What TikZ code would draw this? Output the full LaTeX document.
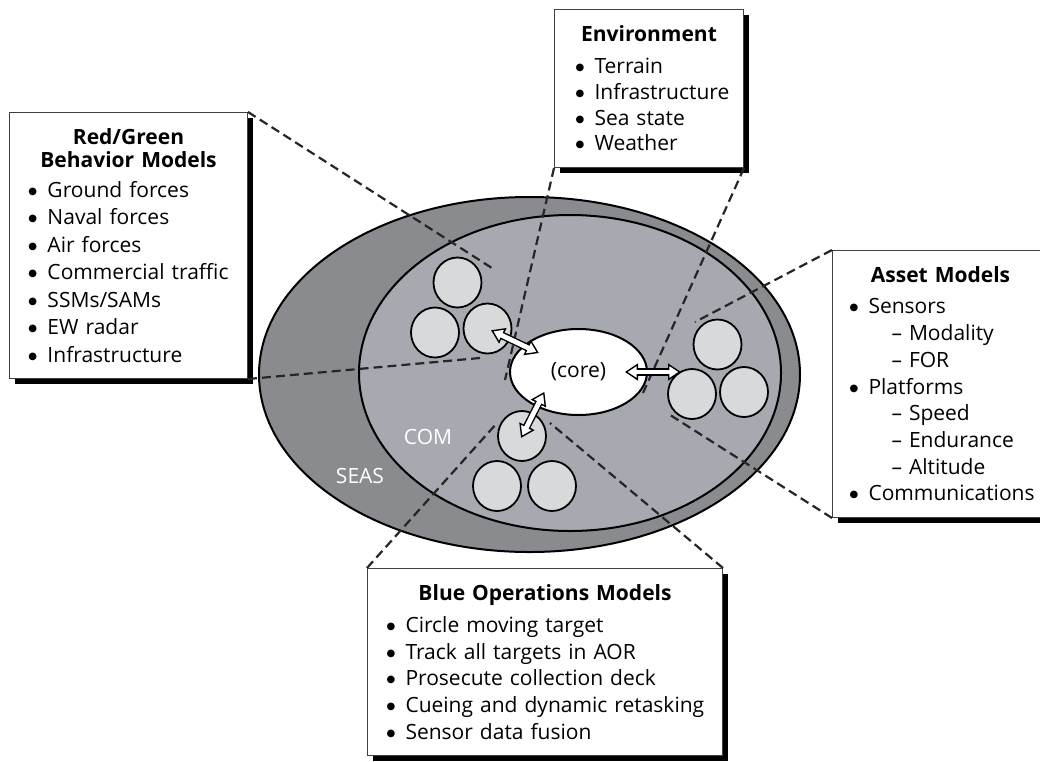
\documentclass[tikz,border=0pt]{standalone}
\usepackage{fontspec}
\setmainfont{Open Sans}
\newfontfamily\dotfont{DejaVu Sans}
\usetikzlibrary{shapes.geometric,arrows.meta,shadows}
\definecolor{seasgray}{RGB}{138,139,142}
\definecolor{comgray}{RGB}{166,169,175}
\definecolor{cellgray}{RGB}{216,217,219}
\newcommand{\itm}{\makebox[19pt][l]{\raisebox{3pt}{\dotfont\fontsize{10}{10}\selectfont ●}}}

\begin{document}
\begin{tikzpicture}[
    x=1pt, y=-1pt,
    font=\fontsize{21}{26.5}\selectfont,
    box/.style={rectangle, draw=black!75, line width=1pt, fill=white, anchor=north west, inner xsep=10pt, inner ysep=0pt, drop shadow={shadow xshift=5pt, shadow yshift=-5pt, fill=black, opacity=1}},
    zone/.style={ellipse, draw, line width=2pt, inner sep=0pt},
    cell/.style={ellipse, draw, line width=1.8pt, fill=cellgray, minimum width=48pt, minimum height=50pt, inner sep=0pt},
    lead/.style={draw=black!85, line width=2.2pt, dash pattern=on 9pt off 5pt},
    linktip/.tip={Triangle[fill=white, length=13pt, width=17pt, line width=1.4pt]},
    linkout/.style={draw=black, line width=7.6pt, linktip-linktip},
    linkin/.style={draw=white, line width=4.8pt}
    ]
    \useasboundingbox (0,0) rectangle (1040,761);

    % model boxes
    \node [box, minimum width=238pt, minimum height=266pt, text width=218pt, font=\fontsize{21}{27.5}\selectfont] (redgreen) at (9,112)
      {{\centering\bfseries Red/Green\\[-4.5pt]Behavior Models\par}\vspace{2.5pt}\raggedright\leftskip=9pt
       \itm Ground forces\\ \itm Naval forces\\ \itm Air forces\\ \itm Commercial traffic\\
       \itm SSMs/SAMs\\ \itm EW radar\\ \itm Infrastructure\par};
    \node [box, minimum width=189pt, minimum height=158pt, text width=169pt, font=\fontsize{21}{25.7}\selectfont] (environment) at (554,9)
      {{\centering\bfseries Environment\par}\vspace{6.3pt}\raggedright\leftskip=11pt
       \itm Terrain\\ \itm Infrastructure\\ \itm Sea state\\ \itm Weather\par};
    \node [box, minimum width=216pt, minimum height=267pt, text width=196pt, font=\fontsize{21}{26.7}\selectfont] (asset) at (832,250)
      {{\centering\bfseries Asset Models\par}\vspace{4.3pt}\raggedright\leftskip=7pt
       \itm Sensors\\ \hspace*{42pt}– Modality\\ \hspace*{42pt}– FOR\\
       \itm Platforms\\ \hspace*{42pt}– Speed\\ \hspace*{42pt}– Endurance\\ \hspace*{42pt}– Altitude\\
       \itm Communications\par};
    \node [box, minimum width=355pt, minimum height=187pt, text width=335pt, font=\fontsize{21}{26.75}\selectfont] (blue) at (367,568)
      {{\centering\bfseries Blue Operations Models\par}\vspace{5.3pt}\raggedright\leftskip=9pt
       \itm Circle moving target\\ \itm Track all targets in AOR\\ \itm Prosecute collection deck\\
       \itm Cueing and dynamic retasking\\ \itm Sensor data fusion\par};

    % SEAS and COM
    \node [zone, fill=seasgray, minimum width=541pt, minimum height=355pt] (seas) at (529.5,374.5) {};
    \node [zone, fill=comgray, minimum width=422pt, minimum height=316pt] (com) at (570,373) {};

    % leader lines
    \coordinate (rgtop) at (495,270);
    \coordinate (rgbot) at (480,358);
    \coordinate (envl) at (505,380);
    \coordinate (envr) at (643,393);
    \coordinate (astop) at (695,322);
    \coordinate (asbot) at (667,413);
    \coordinate (blul) at (497,423);
    \coordinate (blur) at (550,423);
    \draw [lead] (redgreen.north east) -- (rgtop);
    \draw [lead] (redgreen.south east) -- (rgbot);
    \draw [lead] (environment.south west) -- (envl);
    \draw [lead] (environment.south east) -- (envr);
    \draw [lead] (asset.north west) -- (astop);
    \draw [lead] (asset.south west) -- (asbot);
    \draw [lead] (blue.north west) -- (blul);
    \draw [lead] (blue.north east) -- (blur);

    % core and model cells
    \node [zone, fill=white, minimum width=137pt, minimum height=86pt] (core) at (578.5,372) {(core)};
    \node [cell] (rg1) at (457.5,282.5) {};
    \node [cell] (rg2) at (435,332.5) {};
    \node [cell] (rg3) at (487.5,328.5) {};
    \node [cell] (bo1) at (522,436) {};
    \node [cell] (bo2) at (497,486) {};
    \node [cell] (bo3) at (552,486) {};
    \node [cell] (as1) at (717.5,344.5) {};
    \node [cell] (as2) at (692,394) {};
    \node [cell] (as3) at (744,392) {};

    \node [text=white] (comlabel) at (428,437) {COM};
    \node [text=white] (seaslabel) at (360,476) {SEAS};

    % links to the core
    \draw [linkout, shorten <=4pt, shorten >=44pt] (rg3.center) -- (core.center);
    \draw [linkin, shorten <=15pt, shorten >=55pt] (rg3.center) -- (core.center);
    \draw [linkout, shorten <=-2pt, shorten >=-17pt] (bo1.center) -- (core.220);
    \draw [linkin, shorten <=9pt, shorten >=-6pt] (bo1.center) -- (core.220);
    \draw [linkout, shorten <=46.5pt, shorten >=11pt] (core.center) -- (core.center -| as2.center);
    \draw [linkin, shorten <=57.5pt, shorten >=22pt] (core.center) -- (core.center -| as2.center);
\end{tikzpicture}
\end{document}
